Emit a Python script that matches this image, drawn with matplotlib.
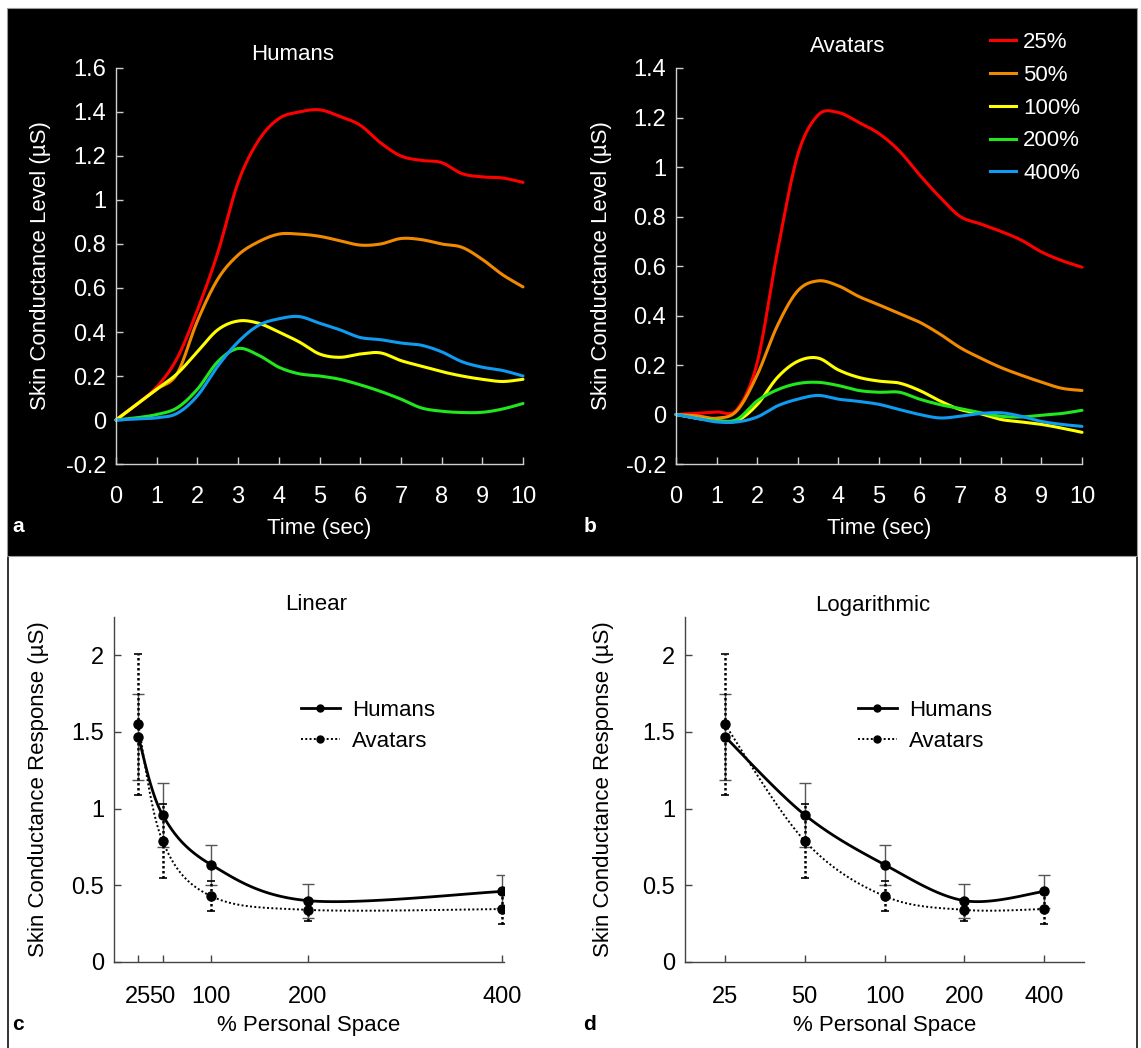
import numpy as np
import matplotlib
matplotlib.use("Agg")
import matplotlib.pyplot as plt
from matplotlib.lines import Line2D
from matplotlib.patches import Rectangle

plt.rcParams["font.family"] = ["Liberation Sans", "DejaVu Sans"]

# ---------------- data ----------------
time_s = [0, 0.5, 1, 1.5, 2, 2.5, 3, 3.5, 4, 4.5, 5, 5.5, 6, 6.5, 7, 7.5, 8, 8.5, 9, 9.5, 10]

humans_25 = [0, 0.07, 0.15, 0.28, 0.50, 0.76, 1.08, 1.27, 1.37, 1.40, 1.41, 1.38, 1.34, 1.26, 1.20, 1.18, 1.17, 1.12, 1.105, 1.10, 1.08]
humans_50 = [0, 0.07, 0.14, 0.21, 0.45, 0.64, 0.75, 0.81, 0.845, 0.845, 0.835, 0.815, 0.795, 0.80, 0.825, 0.82, 0.80, 0.785, 0.73, 0.66, 0.605]
humans_100 = [0, 0.07, 0.14, 0.21, 0.31, 0.41, 0.45, 0.44, 0.40, 0.355, 0.30, 0.285, 0.30, 0.305, 0.27, 0.245, 0.22, 0.20, 0.185, 0.175, 0.185]
humans_200 = [0, 0.01, 0.025, 0.055, 0.14, 0.265, 0.325, 0.295, 0.24, 0.21, 0.20, 0.185, 0.16, 0.13, 0.095, 0.055, 0.04, 0.034, 0.035, 0.05, 0.075]
humans_400 = [0, 0.005, 0.01, 0.03, 0.11, 0.245, 0.355, 0.43, 0.46, 0.47, 0.44, 0.41, 0.375, 0.365, 0.35, 0.34, 0.31, 0.265, 0.24, 0.225, 0.20]

avatars_25 = [0, 0.005, 0.01, 0.02, 0.21, 0.66, 1.05, 1.21, 1.22, 1.18, 1.135, 1.065, 0.968, 0.878, 0.80, 0.77, 0.74, 0.705, 0.657, 0.622, 0.595]
avatars_50 = [0, -0.005, -0.015, 0.015, 0.16, 0.36, 0.50, 0.54, 0.52, 0.477, 0.443, 0.408, 0.373, 0.325, 0.27, 0.228, 0.19, 0.159, 0.131, 0.106, 0.097]
avatars_100 = [0, -0.015, -0.025, -0.025, 0.04, 0.15, 0.215, 0.228, 0.18, 0.15, 0.135, 0.127, 0.097, 0.055, 0.02, 0.003, -0.02, -0.03, -0.04, -0.055, -0.072]
avatars_200 = [0, -0.015, -0.025, -0.02, 0.055, 0.10, 0.125, 0.13, 0.117, 0.097, 0.09, 0.09, 0.062, 0.04, 0.024, 0.007, -0.007, -0.01, -0.003, 0.004, 0.017]
avatars_400 = [0, -0.015, -0.03, -0.03, -0.01, 0.035, 0.062, 0.077, 0.062, 0.053, 0.041, 0.02, 0.0, -0.014, -0.007, 0.004, 0.007, -0.007, -0.028, -0.04, -0.048]

condition_labels = ["25%", "50%", "100%", "200%", "400%"]
condition_colors = ["#ff0000", "#f28a00", "#ffff00", "#22e61e", "#0f9bf0"]

personal_space = [25, 50, 100, 200, 400]
scr_humans = [1.47, 0.96, 0.635, 0.40, 0.46]
scr_humans_err = [0.28, 0.21, 0.13, 0.11, 0.11]
scr_avatars = [1.55, 0.79, 0.43, 0.34, 0.345]
scr_avatars_err = [0.46, 0.24, 0.10, 0.07, 0.10]

level_ticks_a = [-0.2, 0, 0.2, 0.4, 0.6, 0.8, 1, 1.2, 1.4, 1.6]
level_ticks_b = [-0.2, 0, 0.2, 0.4, 0.6, 0.8, 1, 1.2, 1.4]
time_ticks = [0, 1, 2, 3, 4, 5, 6, 7, 8, 9, 10]
scr_ticks = [0, 0.5, 1, 1.5, 2]

# ---------------- layout ----------------
W, H = 1141, 1048
fig = plt.figure(figsize=(W / 100, H / 100), dpi=100)
fig.patch.set_facecolor("white")


def px_axes(left, top, right, bottom):
    return fig.add_axes([left / W, 1 - bottom / H, (right - left) / W, (bottom - top) / H])


def fx(x):
    return x / W


def fy(y):
    return 1 - y / H


# black upper band and thin frame round the whole figure
fig.patches.append(Rectangle((fx(7), fy(556)), fx(1137) - fx(7), fy(8) - fy(556),
                             transform=fig.transFigure, facecolor="black",
                             edgecolor="#9a9a9a", lw=0.8, zorder=-10))
fig.lines.append(Line2D([fx(7.5), fx(7.5)], [fy(556), fy(1048)], transform=fig.transFigure,
                        color="#333333", lw=1.4, zorder=-10))
fig.lines.append(Line2D([fx(1136.5), fx(1136.5)], [fy(556), fy(1048)], transform=fig.transFigure,
                        color="#333333", lw=1.4, zorder=-10))


def smooth(ax, x, y, samples=30):
    """Bezier smoothing through the points, computed in screen space."""
    pts = ax.transData.transform(np.column_stack([x, y]))
    n = len(pts)
    out = [pts[0]]
    t = np.linspace(0, 1, samples)[1:, None]
    for i in range(n - 1):
        p0 = pts[i - 1] if i > 0 else pts[i]
        p1, p2 = pts[i], pts[i + 1]
        p3 = pts[i + 2] if i + 2 < n else pts[i + 1]
        d12 = np.hypot(*(p2 - p1))
        d02 = np.hypot(*(p2 - p0))
        d13 = np.hypot(*(p3 - p1))
        f1 = 1 / 6 if d02 == 0 else min(1 / 6, 0.5 * d12 / d02)
        f2 = 1 / 6 if d13 == 0 else min(1 / 6, 0.5 * d12 / d13)
        c1 = p1 + f1 * (p2 - p0)
        c2 = p2 - f2 * (p3 - p1)
        seg = (1 - t) ** 3 * p1 + 3 * (1 - t) ** 2 * t * c1 + 3 * (1 - t) * t ** 2 * c2 + t ** 3 * p2
        out.extend(seg)
    out = ax.transData.inverted().transform(np.array(out))
    return out[:, 0], out[:, 1]


def fmt(v):
    return "%g" % v


TICK_FS = 17
LABEL_FS = 16
TITLE_FS = 16

# ---------------- panels a and b ----------------
def level_panel(ax, series, yticks):
    ax.set_facecolor("black")
    ax.set_xlim(0, 10)
    ax.set_ylim(yticks[0], yticks[-1])
    for s in ["top", "right"]:
        ax.spines[s].set_visible(False)
    for s in ["left", "bottom"]:
        ax.spines[s].set_color("#cfcfcf")
        ax.spines[s].set_linewidth(1.0)
    ax.set_xticks(time_ticks)
    ax.set_xticklabels([fmt(v) for v in time_ticks])
    ax.set_yticks(yticks)
    ax.set_yticklabels([fmt(v) for v in yticks])
    ax.tick_params(direction="in", length=5, width=1, colors="#cfcfcf",
                   labelcolor="white", labelsize=TICK_FS)
    ax.tick_params(axis="y", pad=7)
    ax.tick_params(axis="x", pad=16)
    for vals, col in zip(series, condition_colors):
        xs, ys = smooth(ax, time_s, vals)
        ax.plot(xs, ys, color=col, lw=2.2, solid_capstyle="round", clip_on=False)
    ax.set_ylabel("Skin Conductance Level (µS)", color="white", fontsize=LABEL_FS)
    ax.set_xlabel("Time (sec)", color="white", fontsize=LABEL_FS)


ax_a = px_axes(116, 68, 523, 464)
level_panel(ax_a, [humans_25, humans_50, humans_100, humans_200, humans_400], level_ticks_a)
ax_a.yaxis.set_label_coords((51 - 116) / 407, 0.5)
ax_a.xaxis.set_label_coords(0.5, -(518 - 464) / 396)

ax_b = px_axes(676, 68, 1082, 464)
level_panel(ax_b, [avatars_25, avatars_50, avatars_100, avatars_200, avatars_400], level_ticks_b)
ax_b.yaxis.set_label_coords((612 - 676) / 406, 0.5)
ax_b.xaxis.set_label_coords(0.5, -(518 - 464) / 396)

handles = [Line2D([], [], color=c, lw=2.2) for c in condition_colors]
leg = ax_b.legend(handles, condition_labels, loc="upper left",
                  bbox_to_anchor=(fx(990), fy(32)), bbox_transform=fig.transFigure,
                  frameon=False, fontsize=LABEL_FS, handlelength=1.15, handletextpad=0.35,
                  labelspacing=0.53, borderpad=0, borderaxespad=0)
for t in leg.get_texts():
    t.set_color("white")

fig.text(fx(293), fy(55), "Humans", color="white", fontsize=TITLE_FS, ha="center", va="center")
fig.text(fx(848), fy(46), "Avatars", color="white", fontsize=TITLE_FS, ha="center", va="center")
fig.text(fx(18), fy(527), "a", color="white", fontsize=15, fontweight="bold", ha="center", va="center")
fig.text(fx(590), fy(527), "b", color="white", fontsize=15, fontweight="bold", ha="center", va="center")

# ---------------- panels c and d ----------------
def response_panel(ax):
    ax.set_ylim(0, 2.25)
    for s in ["top", "right"]:
        ax.spines[s].set_visible(False)
    for s in ["left", "bottom"]:
        ax.spines[s].set_color("#444444")
        ax.spines[s].set_linewidth(1.0)
    ax.set_yticks(scr_ticks)
    ax.set_yticklabels([fmt(v) for v in scr_ticks])
    ax.tick_params(direction="in", length=5, width=1, colors="#444444",
                   labelcolor="black", labelsize=TICK_FS)
    ax.tick_params(axis="y", pad=7)
    ax.tick_params(axis="x", pad=17)
    ax.minorticks_off()

    ax.errorbar(personal_space, scr_humans, yerr=scr_humans_err, fmt="none",
                ecolor="#555555", elinewidth=1.0, capsize=4, capthick=1.0, zorder=2)
    ea = ax.errorbar(personal_space, scr_avatars, yerr=scr_avatars_err, fmt="none",
                     ecolor="black", elinewidth=1.8, capsize=3, capthick=1.2, zorder=2)
    ea[2][0].set_linestyle((0, (1, 1)))

    xs, ys = smooth(ax, personal_space, scr_humans)
    ax.plot(xs, ys, color="black", lw=2.0, zorder=3)
    xs, ys = smooth(ax, personal_space, scr_avatars)
    ax.plot(xs, ys, color="black", lw=1.4, linestyle=(0, (1, 1.2)), zorder=3)
    ax.plot(personal_space, scr_humans, "o", color="black", ms=6.5, zorder=4)
    ax.plot(personal_space, scr_avatars, "o", color="black", ms=6.5, zorder=4)

    ax.set_ylabel("Skin Conductance Response (µS)", fontsize=LABEL_FS)
    ax.set_xlabel("% Personal Space", fontsize=LABEL_FS)
    hh = [Line2D([], [], color="black", lw=2.0, marker="o", ms=5),
          Line2D([], [], color="black", lw=1.4, linestyle=(0, (1, 1.2)), marker="o", ms=5)]
    return hh


ax_c = px_axes(114, 617, 504, 962)
ax_c.set_xlim(0, 402)
hh = response_panel(ax_c)
ax_c.set_xticks(personal_space)
ax_c.set_xticklabels([str(v) for v in personal_space])
ax_c.yaxis.set_label_coords((49 - 114) / 390, 0.5)
ax_c.xaxis.set_label_coords(0.5, -(1015 - 962) / 345)
ax_c.legend(hh, ["Humans", "Avatars"], loc="upper left",
            bbox_to_anchor=(fx(301), fy(700)), bbox_transform=fig.transFigure,
            frameon=False, fontsize=LABEL_FS, handlelength=1.75, handletextpad=0.55,
            labelspacing=0.43, borderpad=0, borderaxespad=0)

ax_d = px_axes(685, 617, 1084, 962)
ax_d.set_xscale("log", base=2)
ax_d.set_xlim(25 / np.sqrt(2), 400 * np.sqrt(2))
hh = response_panel(ax_d)
ax_d.set_xticks(personal_space)
ax_d.set_xticklabels([str(v) for v in personal_space])
ax_d.yaxis.set_label_coords((614 - 685) / 399, 0.5)
ax_d.xaxis.set_label_coords(0.5, -(1015 - 962) / 345)
ax_d.legend(hh, ["Humans", "Avatars"], loc="upper left",
            bbox_to_anchor=(fx(858), fy(700)), bbox_transform=fig.transFigure,
            frameon=False, fontsize=LABEL_FS, handlelength=1.75, handletextpad=0.55,
            labelspacing=0.43, borderpad=0, borderaxespad=0)

fig.text(fx(316), fy(605), "Linear", fontsize=TITLE_FS, ha="center", va="center")
fig.text(fx(873), fy(605), "Logarithmic", fontsize=TITLE_FS, ha="center", va="center")
fig.text(fx(18), fy(1024), "c", fontsize=15, fontweight="bold", ha="center", va="center")
fig.text(fx(589), fy(1024), "d", fontsize=15, fontweight="bold", ha="center", va="center")

fig.savefig("out.png", dpi=100, facecolor=fig.get_facecolor())
